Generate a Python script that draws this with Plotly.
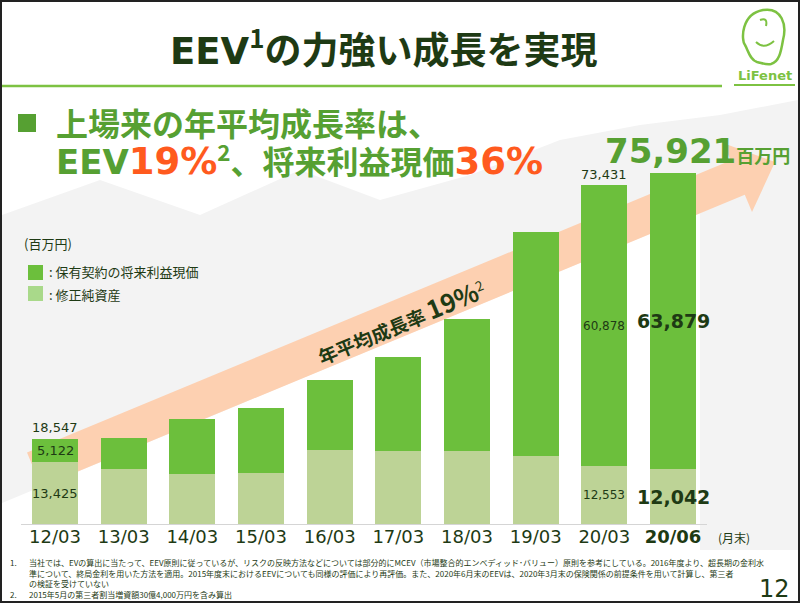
import plotly.graph_objects as go

# ---------------- data ----------------
periods = ["12/03", "13/03", "14/03", "15/03", "16/03", "17/03", "18/03", "19/03", "20/03", "20/06"]
net_assets = [13425, 11980, 10960, 11050, 16020, 15870, 15870, 14790, 12553, 12042]   # 修正純資産
vif = [5122, 6700, 11770, 14050, 15140, 20260, 28480, 48500, 60878, 63879]            # 保有契約の将来利益現価
total_labels = {0: "18,547", 8: "73,431"}
tick_text = periods[:-1] + ["<b>20/06</b>"]

W, H = 800, 603
DARK = "#1E3A14"
GREEN = "#6CBF3C"
LIGHT = "#BDD396"
SUBGREEN = "#56A032"
ORANGE = "#FF5A1E"
PEACH = "#FDD0B1"
CJK = "Noto Sans CJK JP"
LAT = "DejaVu Sans"


def px(x):
    return x / W


def py(y):
    return 1 - y / H


def path(points):
    return "M " + " L ".join(f"{px(x):.5f},{py(y):.5f}" for x, y in points) + " Z"


fig = go.Figure()
fig.add_trace(go.Bar(x=periods, y=net_assets, marker_color=LIGHT, marker_line_width=0,
                     name="修正純資産", showlegend=False, hoverinfo="skip"))
fig.add_trace(go.Bar(x=periods, y=vif, marker_color=GREEN, marker_line_width=0,
                     name="保有契約の将来利益現価", showlegend=False, hoverinfo="skip"))

shapes = []
# background gray with mountains
shapes.append(dict(type="path", xref="paper", yref="paper", layer="below", line_width=0,
                   fillcolor="#F3F3F3",
                   path=path([(2, 215), (100, 180), (200, 215), (300, 170), (380, 200), (470, 175),
                              (560, 140), (640, 125), (720, 115), (798, 100), (798, 550), (2, 550)])))
# white area under arrow
shapes.append(dict(type="path", xref="paper", yref="paper", layer="below", line_width=0,
                   fillcolor="#FFFFFF",
                   path=path([(2, 503), (700, 213), (700, 550), (2, 550)])))
# arrow
shapes.append(dict(type="path", xref="paper", yref="paper", layer="below", line_width=0,
                   fillcolor=PEACH,
                   path=path([(27, 452.5), (730.6, 160.5), (723.5, 143.2), (775, 162),
                              (752, 212), (744.8, 194.7), (41.2, 486.7)])))
# title underline
shapes.append(dict(type="line", xref="paper", yref="paper", x0=px(2), x1=px(722), y0=py(86), y1=py(86),
                   line=dict(color="#7DC242", width=2.5)))
# frame
shapes.append(dict(type="rect", xref="paper", yref="paper", x0=px(1), x1=px(799), y0=py(1), y1=py(602),
                   line=dict(color="#222222", width=2)))
# bullet square
shapes.append(dict(type="rect", xref="paper", yref="paper", x0=px(18), x1=px(36), y0=py(114), y1=py(132),
                   line_width=0, fillcolor=SUBGREEN))
# legend squares
shapes.append(dict(type="rect", xref="paper", yref="paper", x0=px(28), x1=px(43), y0=py(265), y1=py(280),
                   line_width=0, fillcolor=GREEN))
shapes.append(dict(type="rect", xref="paper", yref="paper", x0=px(28), x1=px(43), y0=py(286), y1=py(301),
                   line_width=0, fillcolor="#A9D98A"))
# logo head
head = "M {} C {} {} {} C {} {} {} C {} {} {} C {} {} {} C {} {} {} Z".format(
    *[f"{px(x):.5f},{py(y):.5f}" for x, y in [
        (757, 62),
        (750, 60), (748, 50), (745, 45),
        (741, 40), (741, 14), (763, 10),
        (782, 7), (787, 25), (783, 40),
        (781, 52), (779, 62), (771, 64),
        (766, 65), (762, 63), (757, 62)]])
shapes.append(dict(type="path", xref="paper", yref="paper", path=head,
                   line=dict(color="#7DC242", width=2.5)))
eye = "M {} Q {} {}".format(*[f"{px(x):.5f},{py(y):.5f}" for x, y in [(760, 20), (768, 17), (766, 26)]])
shapes.append(dict(type="path", xref="paper", yref="paper", path=eye, line=dict(color="#7DC242", width=2)))
smile = "M {} Q {} {}".format(*[f"{px(x):.5f},{py(y):.5f}" for x, y in [(756, 42), (764, 50), (774, 41)]])
shapes.append(dict(type="path", xref="paper", yref="paper", path=smile, line=dict(color="#7DC242", width=2)))
shapes.append(dict(type="line", xref="paper", yref="paper", x0=px(734), x1=px(795), y0=py(85), y1=py(85),
                   line=dict(color="#7DC242", width=2)))

ann = []


def text(x, y, t, size, color=DARK, family=CJK, xanchor="center", yanchor="middle", angle=0):
    ann.append(dict(xref="paper", yref="paper", x=px(x), y=py(y), text=t, showarrow=False,
                    font=dict(size=size, color=color, family=family), xanchor=xanchor, yanchor=yanchor,
                    textangle=angle))


# title
text(383, 47, f"<b><span style='font-family:{LAT}'>EEV</span><sup>1</sup>の力強い成長を実現</b>", 37, DARK)
# subtitle
text(54, 122, "<b>上場来の年平均成長率は、</b>", 32, SUBGREEN, xanchor="left")
text(54, 159, f"<b><span style='font-family:{LAT};font-size:34px'>EEV</span>"
              f"<span style='font-family:{LAT};color:{ORANGE};font-size:37px'>19%</span><sup>2</sup>、将来利益現価"
              f"<span style='font-family:{LAT};color:{ORANGE};font-size:37px'>36%</span></b>", 32, SUBGREEN,
     xanchor="left")
# legend
text(22, 243, "(百万円)", 13, xanchor="left")
text(47, 272, ": 保有契約の将来利益現価", 13, xanchor="left")
text(47, 294, ": 修正純資産", 13, xanchor="left")
# arrow text
text(400, 321, f"<b>年平均成長率 <span style='font-size:25px'>19%</span></b><sup>2</sup>", 19, DARK,
     angle=-22.5)
# month end
text(716, 537, "(月末)", 12, xanchor="left")
# page number
text(792, 589, "12", 24, DARK, family=LAT, xanchor="right")
# logo text
text(765, 76, "<b>LiFenet</b>", 13, "#7DC242", family=LAT)

# footnotes
fn = [
    (8, 27, 562, "1.", "当社では、EVの算出に当たって、EEV原則に従っているが、リスクの反映方法などについては部分的にMCEV（市場整合的エンベディッド･バリュー）原則を参考にしている。2016年度より、超長期の金利水"),
    (None, 27, 573, "", "準について、終局金利を用いた方法を適用。2015年度末におけるEEVについても同様の評価により再評価。また、2020年6月末のEEVは、2020年3月末の保険関係の前提条件を用いて計算し、第三者"),
    (None, 27, 583, "", "の検証を受けていない"),
    (8, 27, 594, "2.", "2015年5月の第三者割当増資額30億4,000万円を含み算出"),
]
for nx, bx, yy, num, body in fn:
    if num:
        text(nx, yy, num, 8, xanchor="left")
    text(bx, yy, body, 8, xanchor="left")

totals = [a + b for a, b in zip(net_assets, vif)]
# data labels via axes
ann.append(dict(x=periods[0], y=totals[0], yanchor="bottom", text=total_labels[0], showarrow=False, yshift=2,
                font=dict(size=13, color=DARK, family=LAT)))
ann.append(dict(x=periods[0], y=net_assets[0] + vif[0] / 2, text=f"{vif[0]:,}", showarrow=False,
                font=dict(size=13, color=DARK, family=LAT)))
ann.append(dict(x=periods[0], y=net_assets[0] / 2, text=f"{net_assets[0]:,}", showarrow=False,
                font=dict(size=13, color=DARK, family=LAT)))
ann.append(dict(x=periods[8], y=totals[8], yanchor="bottom", text=total_labels[8], showarrow=False, yshift=1,
                font=dict(size=13, color=DARK, family=LAT)))
ann.append(dict(x=periods[8], y=net_assets[8] + vif[8] / 2, text=f"{vif[8]:,}", showarrow=False,
                font=dict(size=12, color=DARK, family=LAT)))
ann.append(dict(x=periods[8], y=net_assets[8] / 2, text=f"{net_assets[8]:,}", showarrow=False,
                font=dict(size=12, color=DARK, family=LAT)))
ann.append(dict(x=periods[9], y=net_assets[9] + vif[9] / 2, text=f"<b>{vif[9]:,}</b>", showarrow=False,
                font=dict(size=19, color=DARK, family=LAT)))
ann.append(dict(x=periods[9], y=net_assets[9] / 2, text=f"<b>{net_assets[9]:,}</b>", showarrow=False,
                font=dict(size=19, color=DARK, family=LAT)))
ann.append(dict(x=periods[9], y=totals[9], yanchor="bottom", xanchor="left", xshift=-70, yshift=0,
                text=f"<b>{totals[9]:,}<span style='font-size:18px;font-family:Noto Sans CJK JP'>百万円</span></b>",
                showarrow=False, font=dict(size=34, color=SUBGREEN, family=LAT)))

x0, x1 = 20.67, 707.33
fig.update_layout(
    width=W, height=H, margin=dict(l=0, r=0, t=0, b=0),
    paper_bgcolor="white", plot_bgcolor="rgba(0,0,0,0)",
    barmode="stack", bargap=0.33,
    xaxis=dict(domain=[px(x0), px(x1)], range=[-0.5, len(periods) - 0.5], autorange=False,
               tickmode="array", tickvals=periods, ticktext=tick_text, ticklabelstandoff=-4,
               tickfont=dict(size=18, color=DARK, family=LAT), showline=True, linecolor="#D5D5D5",
               linewidth=1, showgrid=False, ticks="", fixedrange=True),
    yaxis=dict(domain=[py(524.4), py(154.4)], range=[0, 80000], autorange=False, showticklabels=False,
               showgrid=False, zeroline=False, fixedrange=True),
    shapes=shapes, annotations=ann, showlegend=False,
)

fig.write_html("out.html", config={"displayModeBar": False},
               post_script="document.body.style.margin='0';")
